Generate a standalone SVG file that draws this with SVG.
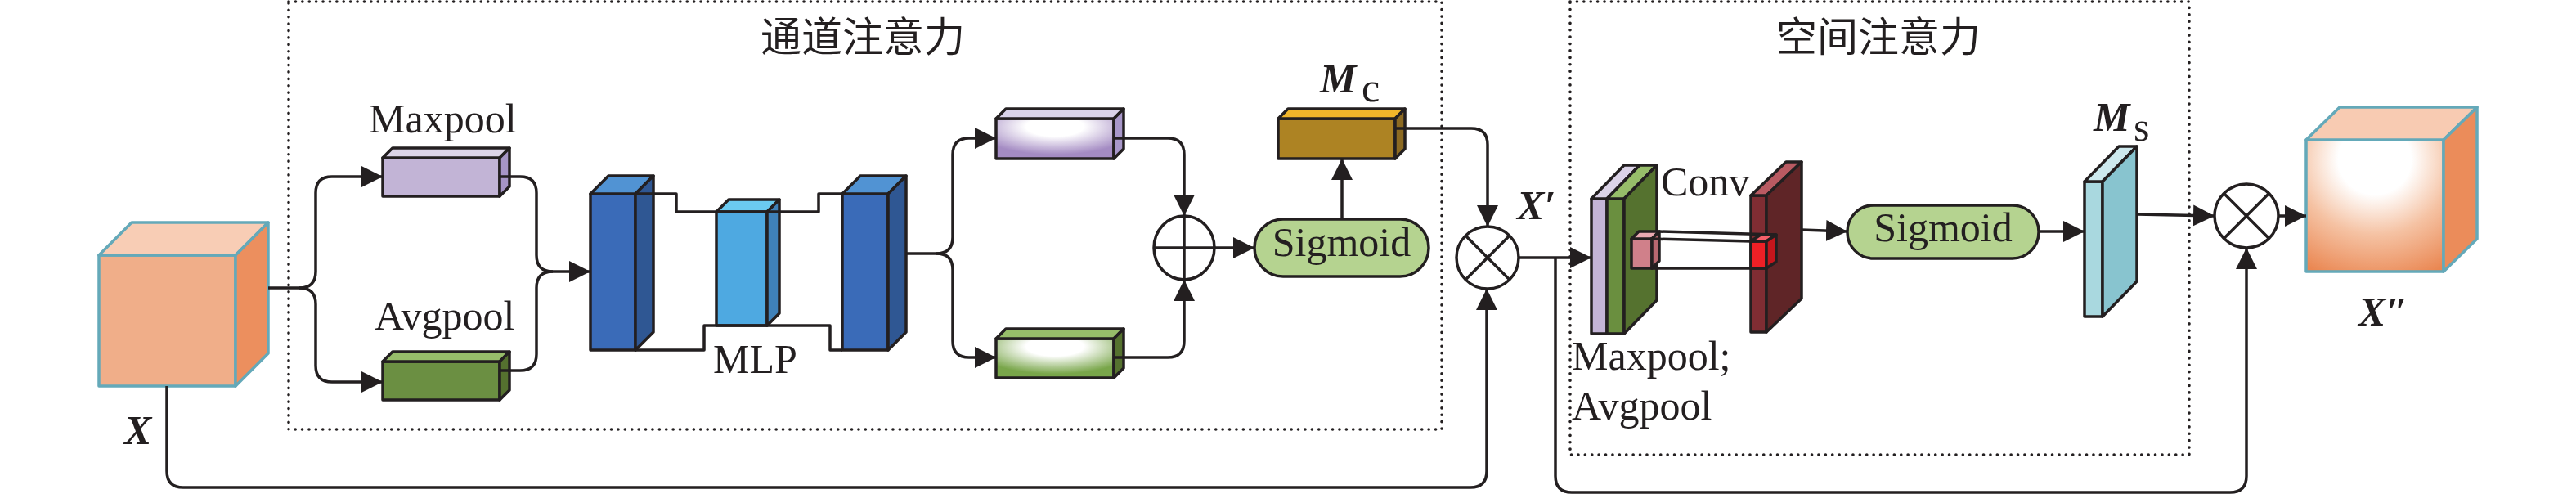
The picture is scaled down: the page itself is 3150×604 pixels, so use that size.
<svg xmlns="http://www.w3.org/2000/svg" width="3150" height="604" viewBox="0 0 3150 604">
<defs>
<marker id="arr" markerUnits="userSpaceOnUse" markerWidth="28" markerHeight="28" refX="26" refY="13" orient="auto"><path d="M0,0 L26,13 L0,26 z" fill="#231f20"/></marker>
<radialGradient id="gPur" cx="0.5" cy="0.2" r="0.7"><stop offset="0" stop-color="#ffffff"/><stop offset="0.35" stop-color="#ffffff"/><stop offset="1" stop-color="#a48bc3"/></radialGradient>
<radialGradient id="gGrn" cx="0.5" cy="0.2" r="0.7"><stop offset="0" stop-color="#ffffff"/><stop offset="0.35" stop-color="#ffffff"/><stop offset="1" stop-color="#79a64a"/></radialGradient>
<radialGradient id="gOut" cx="0.5" cy="0.15" r="0.95"><stop offset="0" stop-color="#ffffff"/><stop offset="0.28" stop-color="#ffffff"/><stop offset="0.6" stop-color="#f5c2a3"/><stop offset="1" stop-color="#ea8752"/></radialGradient>
</defs>
<style>
.ln{fill:none;stroke:#231f20;stroke-width:3.5;stroke-linejoin:round}
.ar{marker-end:url(#arr)}
.bx{stroke:#231f20;stroke-width:3.5;stroke-linejoin:round}
.cube{stroke:#64a9b9;stroke-width:3.5;stroke-linejoin:round}
.dot{fill:none;stroke:#231f20;stroke-width:3.6;stroke-dasharray:0.1 8.3;stroke-linecap:round}
.t{font-family:"Liberation Serif","Times New Roman",serif;font-size:50px;fill:#231f20}
.bi{font-weight:bold;font-style:italic}
.cjk{font-family:"Noto Sans CJK SC","Noto Sans CJK JP",sans-serif;font-size:50px;fill:#231f20}
.op{fill:#ffffff;stroke:#231f20;stroke-width:3.5}
</style>
<g id="frames">
<rect class="dot" x="353" y="2" width="1410" height="523"/>
<rect class="dot" x="1920" y="2" width="757" height="554"/>
<text class="cjk" x="930" y="63">通道注意力</text>
<text class="cjk" x="2172" y="63">空间注意力</text>
</g>
<g id="nodes">
<g id="X">
<rect class="cube" x="121" y="312" width="167" height="160" fill="#f0ae89"/>
<polygon class="cube" points="121,312 288,312 328,272 161,272" fill="#f8cdb5"/>
<polygon class="cube" points="288,312 328,272 328,432 288,472" fill="#ec8f5e"/>
<text class="t bi" x="152" y="543" font-size="52">X</text>
</g>
<g id="maxpool">
<rect class="bx" x="468" y="193" width="143" height="47" fill="#c2b4d6"/>
<polygon class="bx" points="468,193 611,193 623,181 480,181" fill="#dcd4e8"/>
<polygon class="bx" points="611,193 623,181 623,228 611,240" fill="#a695c6"/>
<text class="t" x="451" y="162">Maxpool</text>
</g>
<g id="avgpool">
<rect class="bx" x="468" y="442" width="143" height="47" fill="#6b8f42"/>
<polygon class="bx" points="468,442 611,442 623,430 480,430" fill="#97bd6a"/>
<polygon class="bx" points="611,442 623,430 623,477 611,489" fill="#55712f"/>
<text class="t" x="458" y="403">Avgpool</text>
</g>
<g id="mlp1">
<rect class="bx" x="722" y="237" width="55" height="191" fill="#3a6bb8"/>
<polygon class="bx" points="722,237 777,237 799,215 744,215" fill="#5193d3"/>
<polygon class="bx" points="777,237 799,215 799,406 777,428" fill="#2f5793"/>
</g>
<g id="mlp2">
<rect class="bx" x="876" y="259" width="62" height="139" fill="#4ea9e1"/>
<polygon class="bx" points="876,259 938,259 953,244 891,244" fill="#6bcaf0"/>
<polygon class="bx" points="938,259 953,244 953,383 938,398" fill="#3f81b9"/>
<text class="t" x="872" y="456">MLP</text>
</g>
<g id="mlp3">
<rect class="bx" x="1030" y="237" width="56" height="191" fill="#3a6bb8"/>
<polygon class="bx" points="1030,237 1086,237 1108,215 1052,215" fill="#5193d3"/>
<polygon class="bx" points="1086,237 1108,215 1108,406 1086,428" fill="#2f5793"/>
</g>
<g id="upper">
<rect class="bx" x="1218" y="145" width="144" height="49" fill="url(#gPur)"/>
<polygon class="bx" points="1218,145 1362,145 1374,133 1230,133" fill="#dad3e9"/>
<polygon class="bx" points="1362,145 1374,133 1374,182 1362,194" fill="#a897c9"/>
</g>
<g id="lower">
<rect class="bx" x="1218" y="414" width="144" height="48" fill="url(#gGrn)"/>
<polygon class="bx" points="1218,414 1362,414 1374,402 1230,402" fill="#97bd6a"/>
<polygon class="bx" points="1362,414 1374,402 1374,450 1362,462" fill="#55722f"/>
</g>
<g id="plus">
<ellipse class="op" cx="1448" cy="303" rx="37" ry="39"/>
<path class="ln" d="M1411 303 H1485 M1448 264 V342"/>
</g>
<g id="sigmoid1">
<rect class="bx" x="1534" y="268" width="213" height="70" rx="35" fill="#b5d390"/>
<text class="t" x="1640.5" y="313" font-size="52" text-anchor="middle">Sigmoid</text>
</g>
<g id="Mc">
<rect class="bx" x="1563" y="145" width="143" height="49" fill="#ad8323"/>
<polygon class="bx" points="1563,145 1706,145 1718,133 1575,133" fill="#f0b52a"/>
<polygon class="bx" points="1706,145 1718,133 1718,182 1706,194" fill="#8c6a22"/>
<text class="t bi" x="1614" y="113">M</text>
<text class="t" x="1665" y="124" font-size="29">c</text>
</g>
<g id="mul1">
<ellipse class="op" cx="1819" cy="315" rx="38" ry="38"/>
<path class="ln" d="M1792 288 L1846 342 M1846 288 L1792 342"/>
<text class="t bi" x="1855" y="268" font-size="48">X′</text>
</g>
<g id="pooled">
<rect class="bx" x="1946" y="243" width="19" height="165" fill="#c3b4d6"/>
<rect class="bx" x="1965" y="243" width="21" height="165" fill="#6a8f3f"/>
<polygon class="bx" points="1946,243 1965,243 2005,202 1986,202" fill="#dcd3e8"/>
<polygon class="bx" points="1965,243 1986,243 2026,202 2005,202" fill="#97bd6a"/>
<polygon class="bx" points="1986,243 2026,202 2026,367 1986,408" fill="#55722f"/>
<rect class="bx" x="1995" y="292" width="25" height="36" fill="#d0808a" stroke-width="3"/>
<polygon class="bx" points="1995,292 2020,292 2029,283 2004,283" fill="#eaaab2" stroke-width="3"/>
<polygon class="bx" points="2020,292 2029,283 2029,319 2020,328" fill="#b86870" stroke-width="3"/>
<text class="t" x="1922" y="452">Maxpool;</text>
<text class="t" x="1922" y="513">Avgpool</text>
</g>
<g id="conv">
<rect class="bx" x="2141" y="239" width="19" height="167" fill="#7f2d33"/>
<polygon class="bx" points="2141,239 2160,239 2203,198 2184,198" fill="#b95a62"/>
<polygon class="bx" points="2160,239 2203,198 2203,365 2160,406" fill="#5f2527"/>
<path class="ln" stroke-width="3" d="M2029 283 L2172 287 M2018 292 L2141 295 M2020 328 L2160 328"/>
<rect class="bx" x="2141" y="295" width="19" height="33" fill="#ee2026" stroke-width="3"/>
<polygon class="bx" points="2141,295 2160,295 2172,287 2153,287" fill="#f5606a" stroke-width="3"/>
<polygon class="bx" points="2160,295 2172,287 2172,320 2160,328" fill="#c4161c" stroke-width="3"/>
<text class="t" x="2031" y="239">Conv</text>
</g>
<g id="sigmoid2">
<rect class="bx" x="2259" y="251" width="234" height="65" rx="32" fill="#b5d390"/>
<text class="t" x="2376" y="295" font-size="52" text-anchor="middle">Sigmoid</text>
</g>
<g id="Ms">
<rect class="bx" x="2549" y="222" width="22" height="165" fill="#a9d8df"/>
<polygon class="bx" points="2549,222 2571,222 2613,179 2591,179" fill="#cde9ee"/>
<polygon class="bx" points="2571,222 2613,179 2613,344 2571,387" fill="#88c4cf"/>
<text class="t bi" x="2560" y="160">M</text>
<text class="t" x="2609" y="172" font-size="29">s</text>
</g>
<g id="mul2">
<ellipse class="op" cx="2747" cy="264" rx="39" ry="39"/>
<path class="ln" d="M2719 236 L2775 292 M2775 236 L2719 292"/>
</g>
<g id="Xout">
<rect class="cube" x="2820" y="171" width="168" height="161" fill="url(#gOut)"/>
<polygon class="cube" points="2820,171 2988,171 3029,131 2861,131" fill="#f8cbb2"/>
<polygon class="cube" points="2988,171 3029,131 3029,292 2988,332" fill="#eb8c5a"/>
<text class="t bi" x="2884" y="398" font-size="48">X″</text>
</g>
</g>
<g id="connectors">
<path class="ln ar" d="M328 352 H366 Q386 352 386 332 V236 Q386 216 406 216 H468"/>
<path class="ln ar" d="M366 352 Q386 352 386 372 V447 Q386 467 406 467 H468"/>
<path class="ln ar" d="M611 216 H636 Q656 216 656 236 V312 Q656 332 676 332 H722"/>
<path class="ln" d="M611 453 H636 Q656 453 656 433 V352 Q656 332 676 332"/>
<path class="ln" d="M777 237 H827 V259 H1001 V237 H1030"/>
<path class="ln" d="M777 428 H861 V398 H1015 V428 H1030"/>
<path class="ln ar" d="M1108 310 H1145 Q1165 310 1165 290 V189 Q1165 169 1185 169 H1218"/>
<path class="ln ar" d="M1145 310 Q1165 310 1165 330 V417 Q1165 437 1185 437 H1218"/>
<path class="ln ar" d="M1362 169 H1428 Q1448 169 1448 189 V264"/>
<path class="ln ar" d="M1362 437 H1428 Q1448 437 1448 417 V342"/>
<path class="ln ar" d="M1485 303 H1534"/>
<path class="ln ar" d="M1641 268 V194"/>
<path class="ln ar" d="M1706 157 H1799 Q1819 157 1819 177 V277"/>
<path class="ln ar" d="M1857 315 H1946"/>
<path class="ln ar" d="M1902 315 V582 Q1902 602 1922 602 H2727 Q2747 602 2747 582 V303"/>
<path class="ln ar" d="M204 472 V576 Q204 596 224 596 H1798 Q1818 596 1818 576 V353"/>
<path class="ln ar" d="M2203 281 L2259 283"/>
<path class="ln ar" d="M2493 283 H2549"/>
<path class="ln ar" d="M2613 262 L2708 264"/>
<path class="ln ar" d="M2786 264 H2820"/>
</g>
</svg>
